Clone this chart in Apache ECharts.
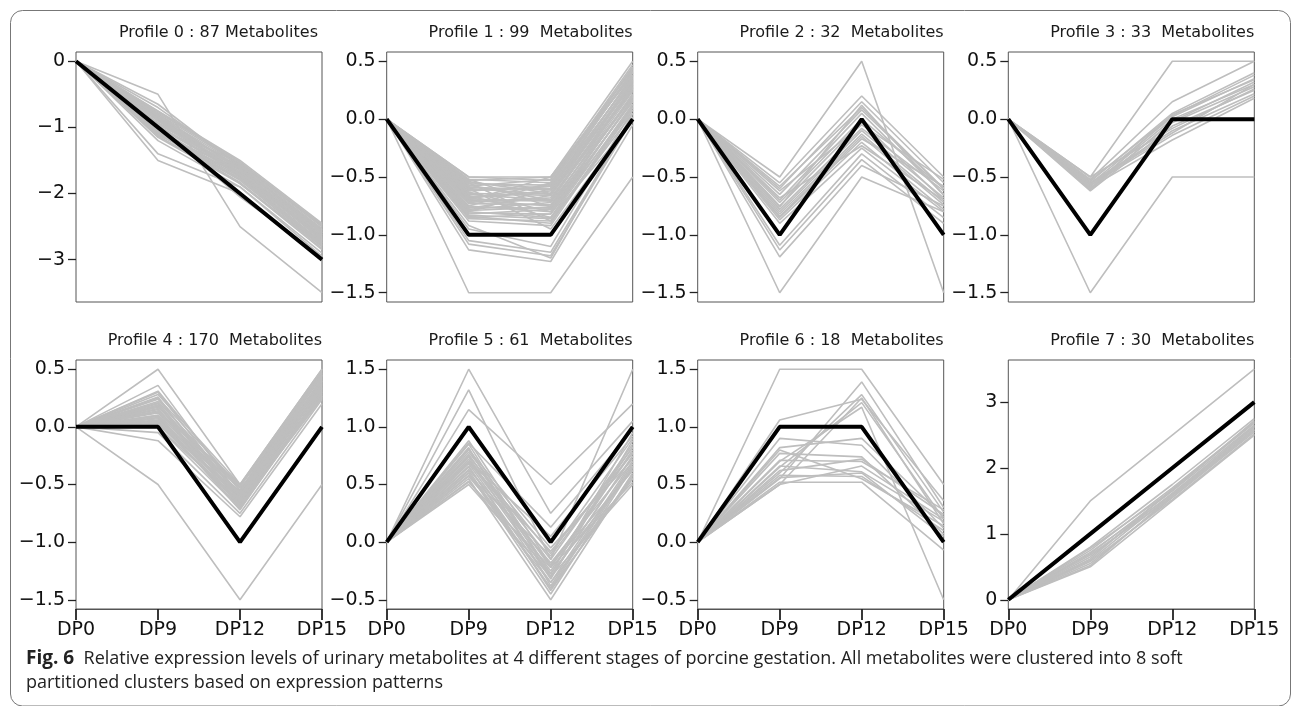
<!DOCTYPE html>
<html>
<head>
<meta charset="utf-8">
<script src="https://cdn.jsdelivr.net/npm/echarts@6/dist/echarts.min.js"></script>
<style>
html,body{margin:0;padding:0;background:#fff;}
#chart{width:1293px;height:706px;}
</style>
</head>
<body>
<div id="chart"></div>
<script>
const categories = ['DP0', 'DP9', 'DP12', 'DP15'];
const profileIds = [0, 1, 2, 3, 4, 5, 6, 7];
const profileCounts = [87, 99, 32, 33, 170, 61, 18, 30];

const centers = [
  [0, -1, -2, -3],
  [0, -1, -1, 0],
  [0, -1, 0, -1],
  [0, -1, 0, 0],
  [0, 0, -1, 0],
  [0, 1, 0, 1],
  [0, 1, 1, 0],
  [0, 1, 2, 3]
];

const profile0 = [
  [0,-0.5,-2.5,-3.5],[0,-1.5,-2.0,-3.0],[0,-1.4,-1.9,-2.95],[0,-0.65,-1.6,-2.6],
  [0,-0.75,-1.5,-2.45],[0,-0.8,-1.55,-2.5],[0,-0.85,-1.6,-2.55],[0,-0.9,-1.6,-2.6],
  [0,-0.95,-1.65,-2.65],[0,-1.0,-1.7,-2.7],[0,-1.05,-1.75,-2.75],[0,-1.1,-1.8,-2.8],
  [0,-1.15,-1.85,-2.85],[0,-0.8,-1.65,-2.6],[0,-0.9,-1.7,-2.7],[0,-1.0,-1.6,-2.55],
  [0,-1.1,-1.7,-2.65],[0,-0.85,-1.75,-2.75],[0,-0.95,-1.55,-2.5],[0,-1.2,-1.9,-2.9],
  [0,-1.05,-1.85,-2.8],[0,-0.78,-1.52,-2.48],[0,-1.12,-1.62,-2.72],[0,-0.7,-1.58,-2.58],
  [0,-1.0,-2.05,-2.95],[0,-0.88,-1.68,-2.68],[0,-1.08,-1.78,-2.78],[0,-0.82,-1.72,-2.62],
  [0,-0.76,-1.53,-2.47],[0,-0.83,-1.57,-2.53],[0,-0.93,-1.63,-2.63],[0,-0.98,-1.67,-2.67],
  [0,-1.03,-1.73,-2.73],[0,-1.07,-1.77,-2.77],[0,-1.13,-1.83,-2.83],[0,-0.87,-1.62,-2.57],
  [0,-0.97,-1.72,-2.69]
];
const profile1 = [
  [0,-1.5,-1.5,-0.5],[0,-1.13,-1.23,-0.05],[0,-1.08,-1.18,0.0],[0,-1.05,-1.15,0.02],
  [0,-0.92,-1.2,0.05],[0,-0.95,-1.1,0.08],[0,-0.5,-0.5,0.5],[0,-0.52,-0.55,0.45],
  [0,-0.55,-0.6,0.42],[0,-0.58,-0.52,0.4],[0,-0.6,-0.65,0.38],[0,-0.62,-0.58,0.35],
  [0,-0.65,-0.7,0.32],[0,-0.68,-0.62,0.3],[0,-0.7,-0.75,0.28],[0,-0.72,-0.68,0.25],
  [0,-0.75,-0.8,0.22],[0,-0.78,-0.72,0.2],[0,-0.8,-0.85,0.18],[0,-0.82,-0.78,0.15],
  [0,-0.84,-0.9,0.12],[0,-0.85,-0.82,0.1],[0,-0.55,-0.88,0.05],[0,-0.6,-0.95,0.0],
  [0,-0.7,-0.5,0.38],[0,-0.8,-0.6,0.3],[0,-0.52,-0.76,0.2],[0,-0.66,-0.85,-0.02],
  [0,-0.88,-0.92,0.1],[0,-0.75,-0.55,0.44],[0,-0.63,-0.8,0.16],[0,-0.57,-0.7,0.26],
  [0,-0.5,-0.53,0.47],[0,-0.53,-0.5,0.43],[0,-0.56,-0.57,0.41],[0,-0.59,-0.61,0.37],
  [0,-0.61,-0.6,0.36],[0,-0.64,-0.66,0.33],[0,-0.67,-0.64,0.31],[0,-0.69,-0.71,0.29],
  [0,-0.71,-0.7,0.27],[0,-0.73,-0.74,0.24],[0,-0.76,-0.77,0.21],[0,-0.79,-0.76,0.19],
  [0,-0.81,-0.82,0.17],[0,-0.83,-0.86,0.13],[0,-0.86,-0.88,0.08],[0,-0.54,-0.64,0.34],
  [0,-0.69,-0.56,0.4],[0,-0.77,-0.66,0.27]
];
const profile2 = [
  [0,-0.5,0.5,-1.5],[0,-1.5,-0.5,-0.8],[0,-1.19,-0.4,-0.75],[0,-1.13,-0.35,-0.9],
  [0,-1.09,-0.3,-0.85],[0,-0.55,0.2,-0.5],[0,-0.6,0.15,-0.55],[0,-0.65,0.08,-0.6],
  [0,-0.7,0.05,-0.65],[0,-0.72,0.0,-0.6],[0,-0.75,-0.03,-0.7],[0,-0.78,-0.08,-0.62],
  [0,-0.8,-0.1,-0.68],[0,-0.82,-0.13,-0.72],[0,-0.85,-0.17,-0.58],[0,-0.87,-0.2,-0.78],
  [0,-0.68,-0.23,-0.7],[0,-0.62,-0.05,-0.52],[0,-0.58,0.1,-0.6],[0,-0.9,-0.25,-0.8],
  [0,-0.76,0.12,-0.66],[0,-0.84,-0.15,-0.74]
];
const profile3 = [
  [0,-1.5,-0.5,-0.5],[0,-0.5,0.5,0.5],[0,-0.52,0.15,0.5],[0,-0.54,0.05,0.4],
  [0,-0.56,0.02,0.35],[0,-0.58,0.0,0.3],[0,-0.6,-0.03,0.28],[0,-0.62,-0.06,0.25],
  [0,-0.55,-0.1,0.22],[0,-0.57,-0.14,0.2],[0,-0.59,-0.18,0.18],[0,-0.53,0.03,0.38],
  [0,-0.61,-0.02,0.32],[0,-0.5,-0.08,0.26],[0,-0.6,0.04,0.34],[0,-0.56,-0.12,0.3]
];
const profile4 = [
  [0,-0.5,-1.5,-0.5],[0,0.5,-0.5,0.5],[0,0.36,-0.6,0.45],[0,0.31,-0.55,0.48],
  [0,-0.12,-0.78,0.2],[0,-0.05,-0.75,0.24],[0,0.0,-0.71,0.28],[0,0.28,-0.5,0.5],
  [0,0.25,-0.52,0.46],[0,0.22,-0.55,0.44],[0,0.2,-0.58,0.42],[0,0.18,-0.6,0.4],
  [0,0.15,-0.62,0.38],[0,0.12,-0.64,0.36],[0,0.1,-0.66,0.34],[0,0.08,-0.68,0.32],
  [0,0.05,-0.7,0.3],[0,0.03,-0.67,0.27],[0,0.0,-0.65,0.35],[0,0.26,-0.68,0.25],
  [0,0.14,-0.5,0.3],[0,0.06,-0.56,0.47],[0,0.3,-0.62,0.33],[0,0.02,-0.58,0.4],
  [0,0.19,-0.7,0.43],[0,0.1,-0.53,0.26],[0,0.04,-0.6,0.37],[0,0.09,-0.63,0.41],
  [0,0.13,-0.57,0.45],[0,0.17,-0.52,0.49],[0,0.21,-0.65,0.29],[0,0.24,-0.6,0.39],
  [0,0.07,-0.72,0.31],[0,0.16,-0.69,0.27]
];
const profile5 = [
  [0,1.5,0.25,1.05],[0,1.15,0.5,1.2],[0,1.32,-0.15,1.5],[0,0.5,-0.3,0.5],
  [0,0.55,-0.5,0.6],[0,0.6,-0.45,0.65],[0,0.62,-0.4,0.55],[0,0.65,-0.35,0.7],
  [0,0.68,-0.3,0.75],[0,0.7,-0.25,0.8],[0,0.72,-0.2,0.62],[0,0.75,-0.15,0.85],
  [0,0.78,-0.1,0.9],[0,0.8,-0.05,0.72],[0,0.82,-0.38,0.68],[0,0.85,-0.28,0.95],
  [0,0.88,-0.2,0.78],[0,0.58,-0.12,0.82],[0,0.66,-0.42,0.58],[0,0.74,-0.32,0.88],
  [0,0.52,-0.22,0.52],[0,0.7,0.05,0.92],[0,0.86,0.13,0.98],[0,0.53,-0.35,0.56],
  [0,0.57,-0.27,0.63],[0,0.63,-0.18,0.7],[0,0.69,-0.08,0.77],[0,0.76,-0.22,0.83],
  [0,0.81,-0.3,0.74],[0,0.6,-0.4,0.66]
];
const profile6 = [
  [0,1.5,1.5,0.5],[0,1.06,1.24,0.36],[0,0.55,1.39,0.3],[0,0.6,1.28,0.26],
  [0,0.65,1.21,0.2],[0,0.7,1.17,-0.5],[0,0.5,1.25,0.16],[0,0.9,0.84,0.12],
  [0,0.82,0.9,0.22],[0,0.77,0.74,0.07],[0,0.71,0.7,0.28],[0,0.66,0.61,0.18],
  [0,0.58,0.57,0.1],[0,0.52,0.52,-0.07],[0,0.8,0.55,0.14],[0,0.62,0.72,0.24],
  [0,0.56,0.6,0.05],[0,0.5,0.66,0.2]
];
const profile7 = [
  [0,1.5,2.5,3.5],[0,0.5,1.5,2.5],[0,0.55,1.55,2.55],[0,0.6,1.6,2.6],
  [0,0.65,1.62,2.62],[0,0.7,1.65,2.65],[0,0.75,1.7,2.7],[0,0.8,1.75,2.75],
  [0,0.52,1.58,2.58],[0,0.58,1.52,2.52],[0,0.62,1.68,2.68],[0,0.68,1.56,2.57],
  [0,0.72,1.6,2.64],[0,0.78,1.66,2.72]
];
const profiles = [profile0, profile1, profile2, profile3, profile4, profile5, profile6, profile7];

const yTickValues = [
  [0, -1, -2, -3],
  [0.5, 0, -0.5, -1, -1.5],
  [0.5, 0, -0.5, -1, -1.5],
  [0.5, 0, -0.5, -1, -1.5],
  [0.5, 0, -0.5, -1, -1.5],
  [1.5, 1, 0.5, 0, -0.5],
  [1.5, 1, 0.5, 0, -0.5],
  [0, 1, 2, 3]
];
const yTickLabels = [
  ['0', '\u22121', '\u22122', '\u22123'],
  ['0.5', '0.0', '\u22120.5', '\u22121.0', '\u22121.5'],
  ['0.5', '0.0', '\u22120.5', '\u22121.0', '\u22121.5'],
  ['0.5', '0.0', '\u22120.5', '\u22121.0', '\u22121.5'],
  ['0.5', '0.0', '\u22120.5', '\u22121.0', '\u22121.5'],
  ['1.5', '1.0', '0.5', '0.0', '\u22120.5'],
  ['1.5', '1.0', '0.5', '0.0', '\u22120.5'],
  ['0', '1', '2', '3']
];
const yMin = [-3.64, -1.58, -1.58, -1.58, -1.58, -0.58, -0.58, -0.14];
const yMax = [0.14, 0.58, 0.58, 0.58, 0.58, 1.58, 1.58, 3.64];

const captionBold = 'Fig. 6';
const captionLine1 = 'Relative expression levels of urinary metabolites at 4 different stages of porcine gestation. All metabolites were clustered into 8 soft';
const captionLine2 = 'partitioned clusters based on expression patterns';

// layout
const lefts = [76, 386.7, 697.7, 1008.3];
const tops = [52, 360];
const W = 246, H = [250, 249];
const AX_FONT = 'DejaVu Sans';

const grids = [], xAxes = [], yAxes = [], series = [], graphics = [];
for (let i = 0; i < 8; i++) {
  const col = i % 4, row = Math.floor(i / 4);
  grids.push({
    left: lefts[col], top: tops[row], width: W, height: H[row],
    show: true, borderColor: '#555', borderWidth: 1, backgroundColor: 'transparent'
  });
  const bottom = row === 1;
  xAxes.push({
    type: 'category', gridIndex: i, data: categories, boundaryGap: false,
    axisLine: { show: bottom, onZero: false, lineStyle: { color: '#555', width: 1 } },
    axisTick: { show: bottom, length: 11, lineStyle: { color: '#222', width: 1.8 } },
    axisLabel: { show: bottom, interval: 0, margin: 12, fontSize: 19, fontFamily: AX_FONT, color: '#111' },
    splitLine: { show: false }
  });
  const vals = yTickValues[i], labs = yTickLabels[i];
  yAxes.push({
    type: 'value', gridIndex: i, min: yMin[i], max: yMax[i],
    axisLine: { show: false },
    axisTick: { show: true, inside: false, length: 8, customValues: vals, lineStyle: { color: '#222', width: 1.3 } },
    axisLabel: {
      show: true, customValues: vals, margin: 11, fontSize: 19, fontFamily: AX_FONT, color: '#111',
      formatter: function (v) {
        for (let k = 0; k < vals.length; k++) { if (Math.abs(vals[k] - v) < 1e-9) return labs[k]; }
        return '';
      }
    },
    splitLine: { show: false }
  });
  profiles[i].forEach(function (line) {
    series.push({
      type: 'line', xAxisIndex: i, yAxisIndex: i, data: line, symbol: 'none', silent: true,
      lineStyle: { color: '#bebebe', width: 1.6 }, z: 2, animation: false
    });
  });
  series.push({
    type: 'line', xAxisIndex: i, yAxisIndex: i, data: centers[i], symbol: 'none', silent: true,
    lineStyle: { color: '#000', width: 4 }, z: 3, animation: false
  });
  const sep = i === 0 ? ' ' : '  ';
  graphics.push({
    type: 'text',
    style: {
      text: 'Profile ' + profileIds[i] + ' : ' + profileCounts[i] + sep + 'Metabolites',
      x: lefts[col] + W - (i === 0 ? 4 : 0), y: row === 0 ? 33 : 341,
      align: 'right', verticalAlign: 'middle',
      fontSize: 16, fontFamily: AX_FONT, fill: '#1a1a1a'
    }
  });
}

graphics.push({
  type: 'rect', silent: true,
  shape: { x: 10.5, y: 10.5, width: 1280, height: 695.5, r: 12 },
  style: { fill: 'none', stroke: '#777', lineWidth: 1 }
});
graphics.push({
  type: 'text',
  style: {
    text: '{b|' + captionBold + '}  ' + captionLine1,
    x: 26, y: 659, verticalAlign: 'middle',
    fontSize: 18, fontFamily: 'Open Sans', fill: '#222',
    rich: { b: { fontSize: 19, fontWeight: 'bold', fontFamily: 'Open Sans', fill: '#222' } }
  }
});
graphics.push({
  type: 'text',
  style: {
    text: captionLine2, x: 26, y: 683, verticalAlign: 'middle',
    fontSize: 18, fontFamily: 'Open Sans', fill: '#222'
  }
});

const chart = echarts.init(document.getElementById('chart'), null, { renderer: 'canvas' });
chart.setOption({
  animation: false,
  backgroundColor: '#fff',
  grid: grids, xAxis: xAxes, yAxis: yAxes, series: series,
  graphic: graphics
});
</script>
</body>
</html>
